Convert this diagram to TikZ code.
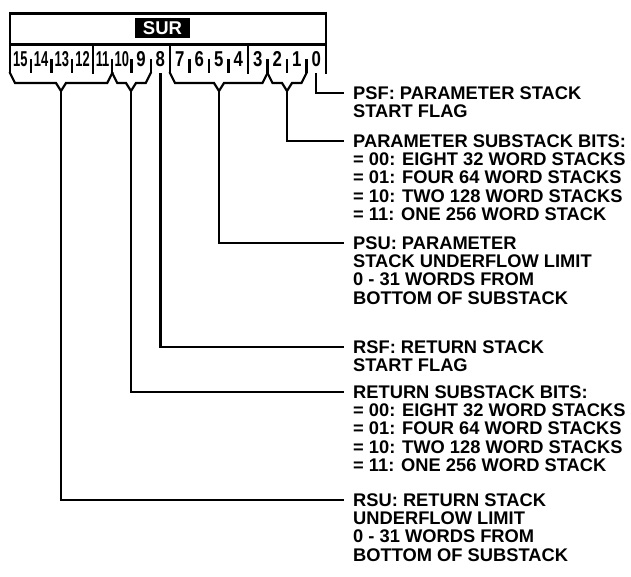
\documentclass[tikz,border=0pt]{standalone}
\usepackage{fontspec}
\usepackage{graphicx}
\setmainfont{Liberation Sans}
\tikzset{
  reg/.style={line width=2.2pt, line join=miter, line cap=rect},
  tickline/.style={line width=2.2pt},
  conn/.style={line width=2.2pt, line join=miter},
  lbl/.style={anchor=north west, inner sep=0pt, align=left,
    font=\bfseries\fontsize{18.3}{18.3}\selectfont},
  bitno/.style={anchor=base, inner sep=0pt, font=\bfseries\fontsize{21.5}{21.5}\selectfont},
  surbox/.style={fill=black, text=white, minimum width=55pt, minimum height=20pt,
    inner sep=0pt, font=\bfseries\fontsize{18.5}{18.5}\selectfont},
}
\begin{document}
\begin{tikzpicture}[x=1pt,y=-1pt]
\useasboundingbox (0,0) rectangle (631,576);
% register outline
\draw[reg] (10,73) -- (10,13.5) -- (326,13.5) -- (326,73);
\draw[reg] (10,44.5) -- (326,44.5);
\foreach \x in {93,170,248} \draw[reg] (\x,44.5) -- (\x,73);
\foreach \x in {30.75,51.5,72.25,112.25,131.5,150.75,189.5,209,228.5,267.5,287,306.5}
  \draw[tickline] (\x,59) -- (\x,73);
\node[surbox] (sur) at (162.5,28) {SUR};
% bit numbers
\foreach \x/\n in {20.4/15,41.1/14,61.9/13,82.6/12,102.6/11,121.9/10}
  \node[bitno] (bit\n) at (\x,66.5) {\scalebox{0.6}[1]{\n}};
\foreach \x/\n in {141.1/9,160.4/8,179.75/7,199.25/6,218.75/5,238.25/4,257.75/3,277.25/2,296.75/1,316.25/0}
  \node[bitno] (bit\n) at (\x,66.5) {\scalebox{0.78}[1]{\n}};
% brackets
\draw[reg] (10,73) -- (15,83) -- (56,83) -- (61,91) -- (66,83) -- (107.25,83) -- (112.25,73);
\draw[reg] (112.25,73) -- (117.25,83) -- (126,83) -- (131,91) -- (136,83) -- (145.75,83) -- (150.75,73);
\draw[reg] (170,73) -- (175,83) -- (214,83) -- (219,91) -- (224,83) -- (262.5,83) -- (267.5,73);
\draw[reg] (267.5,73) -- (272.5,83) -- (282,83) -- (287,91) -- (292,83) -- (301.5,83) -- (306.5,73);
% stem points
\coordinate (rsuStem) at (61,91);
\coordinate (rssStem) at (131,91);
\coordinate (rsfStem) at (160.4,73);
\coordinate (psuStem) at (219,91);
\coordinate (pssStem) at (287,91);
\coordinate (psfStem) at (316.25,73);
% label line ends
\coordinate (psfEnd) at (344,93);
\coordinate (pssEnd) at (344,141);
\coordinate (psuEnd) at (344,243);
\coordinate (rsfEnd) at (344,347);
\coordinate (rssEnd) at (344,392);
\coordinate (rsuEnd) at (344,500);
% labels
\node[lbl] (psf) at (353,86.4) {PSF: PARAMETER STACK\\START FLAG};
\node[lbl] (pss) at (353,134.4) {PARAMETER SUBSTACK BITS:\\= 00: EIGHT 32 WORD STACKS\\= 01: FOUR 64 WORD STACKS\\= 10: TWO 128 WORD STACKS\\= 11: ONE 256 WORD STACK};
\node[lbl] (psu) at (353,236.4) {PSU: PARAMETER\\STACK UNDERFLOW LIMIT\\0 - 31 WORDS FROM\\BOTTOM OF SUBSTACK};
\node[lbl] (rsf) at (353,340.4) {RSF: RETURN STACK\\START FLAG};
\node[lbl] (rss) at (353,385.4) {RETURN SUBSTACK BITS:\\= 00: EIGHT 32 WORD STACKS\\= 01: FOUR 64 WORD STACKS\\= 10: TWO 128 WORD STACKS\\= 11: ONE 256 WORD STACK};
\node[lbl] (rsu) at (353,493.4) {RSU: RETURN STACK\\UNDERFLOW LIMIT\\0 - 31 WORDS FROM\\BOTTOM OF SUBSTACK};
% connectors
\draw[conn] (psfStem) |- (psfEnd);
\draw[conn] (pssStem) |- (pssEnd);
\draw[conn] (psuStem) |- (psuEnd);
\draw[conn] (rsfStem) |- (rsfEnd);
\draw[conn] (rssStem) |- (rssEnd);
\draw[conn] (rsuStem) |- (rsuEnd);
\end{tikzpicture}
\end{document}
